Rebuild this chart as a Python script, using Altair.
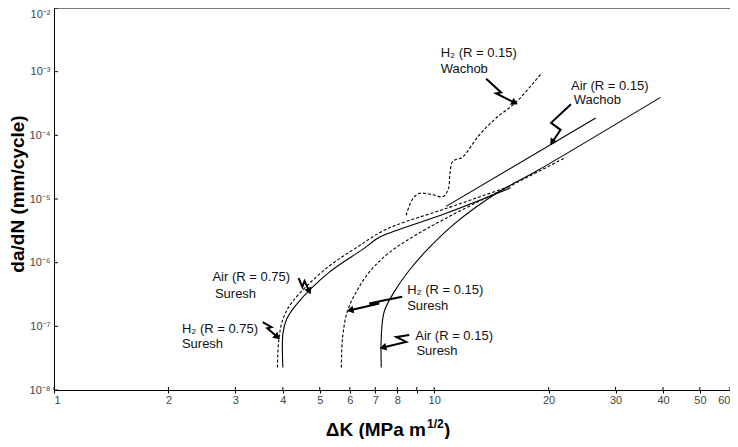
import math
import altair as alt
import pandas as pd
import numpy as np

# ---------------- data (ΔK in MPa m^1/2, da/dN in mm/cycle) ----------------
air075_x = [4.0, 4.0, 4.09, 4.34, 5.3, 6.47, 7.17, 7.95, 10.75, 15.9]
air075_y = [2.26e-8, 7.6e-8, 1.29e-7, 2.2e-7, 7.1e-7, 1.6e-6, 2.5e-6, 3.2e-6, 5.97e-6, 1.5e-5]

h2075_x = [3.87, 3.90, 4.0, 4.24, 5.21, 6.36, 7.17, 7.95, 10.75, 15.7]
h2075_y = [2.26e-8, 5.9e-8, 1.29e-7, 2.44e-7, 8.2e-7, 1.85e-6, 2.94e-6, 3.9e-6, 7.1e-6, 1.56e-5]

h2015_x = [5.70, 5.74, 5.91, 6.24, 6.75, 7.62, 8.97, 10.75, 13.4, 15.7, 22.2]
h2015_y = [2.26e-8, 6.56e-8, 1.71e-7, 3.48e-7, 7.1e-7, 1.44e-6, 2.74e-6, 5.0e-6, 9.8e-6, 1.56e-5, 4.5e-5]

air015_x = [7.26, 7.26, 7.39, 7.85, 8.6, 9.7, 11.28, 14.55, 18.6, 39.4]
air015_y = [2.26e-8, 7.05e-8, 1.71e-7, 3.48e-7, 7.6e-7, 1.72e-6, 4.04e-6, 1.22e-5, 2.75e-5, 3.95e-4]

wachob_air_x = [10.75, 26.6]
wachob_air_y = [7.66e-6, 1.87e-4]

wachob_h2_x = [8.44, 8.76, 9.13, 9.88, 10.56, 10.9, 11.0, 11.2, 11.85, 13.1, 14.55, 16.4, 19.2]
wachob_h2_y = [5.56e-6, 9.83e-6, 1.22e-5, 1.17e-5, 1.09e-5, 1.45e-5, 2.47e-5, 3.93e-5,
               4.52e-5, 9.9e-5, 1.87e-4, 3.3e-4, 9.6e-4]

# annotation labels
label_text = ["H₂ (R = 0.15)", "Wachob", "Air (R = 0.15)", "Wachob",
              "Air (R = 0.75)", "Suresh", "H₂ (R = 0.75)", "Suresh",
              "H₂ (R = 0.15)", "Suresh", "Air (R = 0.15)", "Suresh"]
label_x = [10.4, 10.4, 22.9, 23.3, 2.61, 2.65, 2.17, 2.17, 8.49, 8.49, 8.92, 8.98]
label_y = [1.95e-3, 1.11e-3, 6.04e-4, 3.55e-4, 5.94e-7, 3.25e-7, 9.0e-8, 5.3e-8,
           3.74e-7, 2.12e-7, 7.05e-8, 4.14e-8]

# annotation arrows (zig-zag leaders)
arrow_h2w_x = [13.7, 15.0, 14.55, 16.2]
arrow_h2w_y = [7.75e-4, 4.71e-4, 4.55e-4, 3.3e-4]
arrow_airw_x = [22.9, 20.3, 21.5, 20.5]
arrow_airw_y = [3.08e-4, 1.57e-4, 1.22e-4, 8.0e-5]
arrow_air075_x = [4.40, 4.50, 4.56, 4.68]
arrow_air075_y = [5.73e-7, 4.16e-7, 5.15e-7, 3.7e-7]
arrow_h2075_x = [3.54, 3.73, 3.64, 3.85]
arrow_h2075_y = [1.16e-7, 9.7e-8, 9.36e-8, 7.0e-8]
arrow_h2015_x = [8.24, 7.30, 6.75, 7.17, 6.05]
arrow_h2015_y = [2.92e-7, 2.53e-7, 2.28e-7, 2.28e-7, 1.8e-7]
arrow_air015_x = [8.60, 7.95, 8.44, 7.38]
arrow_air015_y = [7.31e-8, 6.8e-8, 5.69e-8, 4.7e-8]

# axis ticks
x_ticks = [1, 2, 3, 4, 5, 6, 7, 8, 9, 10, 20, 30, 40, 50, 60]
x_tick_labels = ["1", "2", "3", "4", "5", "6", "7", "8", "", "10", "20", "30", "40", "50", "60"]
y_ticks = [1e-8, 1e-7, 1e-6, 1e-5, 1e-4, 1e-3, 1e-2]
y_tick_labels = ["10⁻⁸", "10⁻⁷", "10⁻⁶", "10⁻⁵", "10⁻⁴", "10⁻³", "10⁻²"]

# ---------------- layout ----------------
W, H = 676, 382
X_DOM = [1, 60]
Y_DOM = [1e-8, 1e-2]
FONT = "Liberation Sans"

xs = alt.Scale(type="log", domain=X_DOM, nice=False)
ys = alt.Scale(type="log", domain=Y_DOM, nice=False)

x_label_expr = "[" + ",".join("'%s'" % s for s in x_tick_labels) + "][indexof([" + \
    ",".join(str(v) for v in x_ticks) + "], datum.value)]"
y_label_expr = "[" + ",".join("'%s'" % s for s in y_tick_labels) + "][round(log(datum.value)/LN10)+8]"

x_axis = alt.Axis(values=x_ticks, labelExpr=x_label_expr, title=None, grid=False,
                  tickSize=3, tickColor="black", domainColor="black", domainWidth=1,
                  labelColor="#444", labelFont=FONT, labelFontSize=11, labelPadding=1,
                  labelFlush=True, labelOverlap=False, labelBound=False)
y_axis = alt.Axis(values=y_ticks, labelExpr=y_label_expr, title=None, grid=False,
                  ticks=False, domainColor="black", domainWidth=1,
                  labelColor="#444", labelFont=FONT, labelFontSize=11, labelPadding=4,
                  labelBaseline=alt.condition("datum.value > 0.005", alt.value("top"), alt.value("middle")),
                  labelFlush=False, labelOverlap=False, labelBound=False)


def X(field="k"):
    return alt.X(f"{field}:Q", scale=xs, axis=x_axis)


def Y(field="r"):
    return alt.Y(f"{field}:Q", scale=ys, axis=y_axis)


def sdf(name, xv, yv):
    return pd.DataFrame({"series": name, "k": xv, "r": yv, "i": range(len(xv))})


solid_df = pd.concat([
    sdf("air075", air075_x, air075_y),
    sdf("air015", air015_x, air015_y),
    sdf("wachob_air", wachob_air_x, wachob_air_y),
])
dashed_df = pd.concat([
    sdf("h2075", h2075_x, h2075_y),
    sdf("h2015", h2015_x, h2015_y),
    sdf("wachob_h2", wachob_h2_x, wachob_h2_y),
])

solid = alt.Chart(solid_df).mark_line(color="black", strokeWidth=1.1,
                                      interpolate="catmull-rom").encode(
    x=X(), y=Y(), detail="series:N", order="i:Q")
dashed = alt.Chart(dashed_df).mark_line(color="black", strokeWidth=1.1, strokeDash=[3, 2],
                                        interpolate="catmull-rom").encode(
    x=X(), y=Y(), detail="series:N", order="i:Q")

labels_df = pd.DataFrame({"t": label_text, "k": label_x, "r": label_y})
labels = alt.Chart(labels_df).mark_text(align="left", baseline="middle", font=FONT,
                                        fontSize=13, color="#111").encode(
    x=X(), y=Y(), text="t:N")

arrows = [
    ("a1", arrow_h2w_x, arrow_h2w_y),
    ("a2", arrow_airw_x, arrow_airw_y),
    ("a3", arrow_air075_x, arrow_air075_y),
    ("a4", arrow_h2075_x, arrow_h2075_y),
    ("a5", arrow_h2015_x, arrow_h2015_y),
    ("a6", arrow_air015_x, arrow_air015_y),
]
arrow_df = pd.concat([sdf(n, ax, ay) for n, ax, ay in arrows])

px_per_dec_x = W / (math.log10(X_DOM[1]) - math.log10(X_DOM[0]))
px_per_dec_y = H / (math.log10(Y_DOM[1]) - math.log10(Y_DOM[0]))
heads = []
for n, ax, ay in arrows:
    dx = (math.log10(ax[-1]) - math.log10(ax[-2])) * px_per_dec_x
    dy = -(math.log10(ay[-1]) - math.log10(ay[-2])) * px_per_dec_y
    ang = math.degrees(math.atan2(dx, -dy)) % 360
    heads.append({"k": ax[-1], "r": ay[-1], "ang": ang})
heads_df = pd.DataFrame(heads)

arrow_lines = alt.Chart(arrow_df).mark_line(color="black", strokeWidth=2).encode(
    x=X(), y=Y(), detail="series:N", order="i:Q")
arrow_heads = alt.Chart(heads_df).mark_point(shape="triangle", filled=True, size=60,
                                             color="black", opacity=1).encode(
    x=X(), y=Y(), angle=alt.Angle("ang:Q", scale=None))

# inward tick marks
ytick_in = alt.Chart(pd.DataFrame({"r": y_ticks})).mark_rule(color="black", strokeWidth=1).encode(
    y=Y(), x=alt.value(0), x2=alt.value(4))
xtick_in = alt.Chart(pd.DataFrame({"k": x_ticks})).mark_rule(color="black", strokeWidth=1).encode(
    x=X(), y=alt.value(H), y2=alt.value(H - 3))

one = pd.DataFrame({"t": [0]})
y_title = alt.Chart(one).mark_text(text="da/dN (mm/cycle)", angle=270, font=FONT, fontSize=19,
                                   fontWeight="bold", align="center", baseline="middle",
                                   color="black").encode(x=alt.value(-36), y=alt.value(186))
x_title_main = alt.Chart(one).mark_text(text="ΔK (MPa m", font=FONT, fontSize=19, fontWeight="bold",
                                        align="right", baseline="alphabetic",
                                        color="black").encode(x=alt.value(372), y=alt.value(428))
x_title_sup = alt.Chart(one).mark_text(text="1/2", font=FONT, fontSize=12, fontWeight="bold",
                                       align="left", baseline="alphabetic",
                                       color="black").encode(x=alt.value(373), y=alt.value(420))
x_title_end = alt.Chart(one).mark_text(text=")", font=FONT, fontSize=19, fontWeight="bold",
                                       align="left", baseline="alphabetic",
                                       color="black").encode(x=alt.value(390), y=alt.value(428))

chart = alt.layer(
    solid, dashed, arrow_lines, arrow_heads, labels, ytick_in, xtick_in,
    y_title, x_title_main, x_title_sup, x_title_end
).properties(
    width=W, height=H,
    padding={"left": 46, "top": 0, "right": 0, "bottom": 49},
    autosize=alt.AutoSizeParams(type="none"),
).configure_view(stroke="#777", strokeWidth=1)

chart.save("out.html", embed_options={"renderer": "svg", "actions": False})
